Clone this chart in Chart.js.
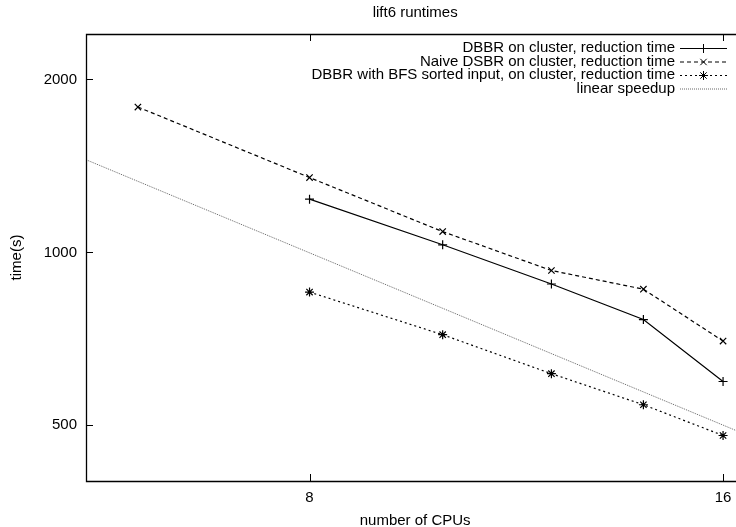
<!DOCTYPE html>
<html><head><meta charset="utf-8">
<script src="https://cdn.jsdelivr.net/npm/chart.js@4"></script>
<style>
html,body{margin:0;padding:0;background:#fff;overflow:hidden;width:736px;height:527px}
#wrap{width:736px;height:527px;overflow:hidden;position:relative}
#c{position:absolute;left:0;top:0}
</style>
</head><body><div id="wrap"><canvas id="c" width="750" height="527"></canvas></div>
<script>
// ---- data ----
const cpus = [6, 8, 10, 12, 14, 16];
const dbbrTime = [null, 1238, 1031, 881, 764, 596];
const naiveTime = [1791, 1350, 1087, 930, 863, 701];
const bfsTime = [null, 853, 719, 615, 543, 480];
const linearCpus = [5.5, 16.58];
const linearTime = [1450, 483];
const xTickValues = [8, 16];
const yTickValues = [500, 1000, 2000];
const seriesLabels = [
  'DBBR on cluster, reduction time',
  'Naive DSBR on cluster, reduction time',
  'DBBR with BFS sorted input, on cluster, reduction time',
  'linear speedup'
];
const chartTitle = 'lift6 runtimes';
const xTitle = 'number of CPUs';
const yTitle = 'time(s)';

const FONT = '"Liberation Sans", Arial, Helvetica, sans-serif';
function pts(xs, ys){ const o=[]; xs.forEach((x,i)=>{ if(ys[i]!=null) o.push({x:x,y:ys[i]}); }); return o; }

const framePlugin = {
  id:'frame',
  afterDraw(chart){
    const ctx = chart.ctx, a = chart.chartArea;
    const xs = chart.scales.x, ys = chart.scales.y;
    ctx.save();
    ctx.strokeStyle = '#000'; ctx.lineWidth = 1.3;
    ctx.beginPath();
    ctx.moveTo(a.right, a.top+0.5); ctx.lineTo(a.left+0.5, a.top+0.5);
    ctx.lineTo(a.left+0.5, a.bottom+0.5); ctx.lineTo(a.right, a.bottom+0.5);
    ctx.stroke();
    ctx.lineWidth = 1;
    const tl = 7;
    ctx.beginPath();
    xs.ticks.forEach(t=>{ const p = Math.round(xs.getPixelForValue(t.value))+0.5;
      ctx.moveTo(p, a.bottom); ctx.lineTo(p, a.bottom-tl);
      ctx.moveTo(p, a.top); ctx.lineTo(p, a.top+tl); });
    ys.ticks.forEach(t=>{ const p = Math.round(ys.getPixelForValue(t.value))+0.5;
      ctx.moveTo(a.left, p); ctx.lineTo(a.left+tl, p); });
    ctx.stroke();
    // title
    ctx.fillStyle = '#000';
    ctx.font = '15px ' + FONT;
    ctx.textAlign = 'center'; ctx.textBaseline = 'middle';
    ctx.fillText(chartTitle, (a.left+a.right)/2, 12.5);
    // legend
    const textRight = 675, sx0 = 680, sx1 = 727;
    chart.data.datasets.forEach((ds,i)=>{
      const y = 48 + 13.5*i;
      ctx.textAlign = 'right';
      ctx.fillStyle = '#000';
      ctx.fillText(ds.label, textRight, y);
      ctx.save();
      ctx.strokeStyle = ds.borderColor; ctx.lineWidth = ds.borderWidth;
      ctx.setLineDash(ds.borderDash || []);
      ctx.beginPath(); ctx.moveTo(sx0, y+0.5); ctx.lineTo(sx1, y+0.5); ctx.stroke();
      ctx.restore();
      if (ds.pointRadius > 0){
        ctx.save();
        ctx.strokeStyle = ds.borderColor; ctx.fillStyle = ds.borderColor; ctx.lineWidth = 1;
        Chart.helpers.drawPoint(ctx, {pointStyle: ds.pointStyle, radius: ds.pointRadius, borderWidth: 1, rotation: 0}, (sx0+sx1)/2, y+0.5);
        ctx.restore();
      }
    });
    ctx.restore();
  }
};

new Chart(document.getElementById('c'), {
  type: 'line',
  data: {
    datasets: [
      { label: seriesLabels[0], data: pts(cpus, dbbrTime), borderColor:'#000', backgroundColor:'#000',
        borderWidth:1.2, pointStyle:'cross', pointRadius:4.5, pointBorderWidth:1.2, borderDash:[] },
      { label: seriesLabels[1], data: pts(cpus, naiveTime), borderColor:'#000', backgroundColor:'#000',
        borderWidth:1.2, pointStyle:'crossRot', pointRadius:4.5, pointBorderWidth:1.2, borderDash:[4,3] },
      { label: seriesLabels[2], data: pts(cpus, bfsTime), borderColor:'#000', backgroundColor:'#000',
        borderWidth:1.2, pointStyle:'star', pointRadius:4.5, pointBorderWidth:1.2, borderDash:[2,3] },
      { label: seriesLabels[3], data: pts(linearCpus, linearTime), borderColor:'#666', backgroundColor:'#666',
        borderWidth:1, pointRadius:0, borderDash:[1,1] }
    ]
  },
  options: {
    responsive:false, animation:false, devicePixelRatio:1,
    layout:{padding:{top:34, right:4, left:0, bottom:0}},
    plugins:{legend:{display:false}, title:{display:false}, tooltip:{enabled:false}},
    elements:{line:{tension:0}},
    scales:{
      x:{ type:'logarithmic', min:5.5, max:16.58,
        grid:{display:false, drawTicks:false}, border:{display:false},
        ticks:{padding:8, color:'#000', font:{family:FONT, size:15}, maxRotation:0, autoSkip:false,
          callback:(v)=>String(v)},
        afterBuildTicks:(s)=>{ s.ticks = xTickValues.map(v=>({value:v})); },
        afterFit:(s)=>{ s.height = 46; },
        title:{display:true, text:xTitle, color:'#000', font:{family:FONT, size:15, lineHeight:0.8}, padding:{top:0,bottom:0}}
      },
      y:{ type:'logarithmic', min:400, max:2400,
        grid:{display:false, drawTicks:false}, border:{display:false},
        ticks:{padding:9, color:'#000', font:{family:FONT, size:15}, autoSkip:false,
          callback:(v)=>String(v)},
        afterBuildTicks:(s)=>{ s.ticks = yTickValues.map(v=>({value:v})); },
        afterFit:(s)=>{ s.width = 86; },
        title:{display:true, text:yTitle, color:'#000', font:{family:FONT, size:15, lineHeight:1.2}, padding:{top:8,bottom:0}}
      }
    }
  },
  plugins:[framePlugin]
});
</script>
</body></html>
